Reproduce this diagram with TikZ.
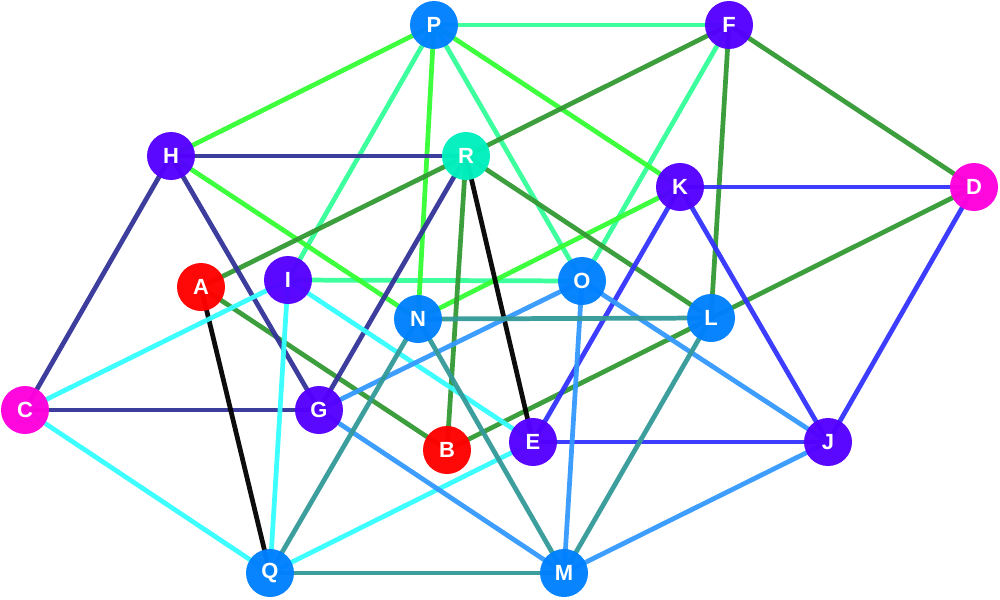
\documentclass[tikz,border=0pt]{standalone}
\usepackage{fontspec}
\setmainfont{Liberation Sans}
\usetikzlibrary{backgrounds}
\definecolor{nblue}{RGB}{0,128,255}
\definecolor{npurple}{RGB}{85,0,255}
\definecolor{nmag}{RGB}{255,0,221}
\definecolor{nred}{RGB}{255,0,0}
\definecolor{nturq}{RGB}{0,240,190}
\definecolor{emint}{RGB}{51,255,153}
\definecolor{egreen}{RGB}{51,255,51}
\definecolor{edgreen}{RGB}{51,153,51}
\definecolor{edblue}{RGB}{51,51,153}
\definecolor{eblue}{RGB}{51,51,255}
\definecolor{ecyan}{RGB}{51,255,255}
\definecolor{esky}{RGB}{51,153,255}
\definecolor{eteal}{RGB}{51,153,153}
\begin{document}
\begin{tikzpicture}[x=0.02cm,y=-0.02cm,
  vtx/.style={circle,minimum size=0.96cm,inner sep=0pt,fill opacity=0.97,text opacity=1,text=white,font=\fontsize{12.5}{12.5}\selectfont\bfseries},
  edg/.style={line width=2.7pt,draw opacity=0.95}]
\useasboundingbox (0,0) rectangle (1000,599);
% nodes
\node[vtx,fill=nblue] (P) at (434,25) {P};
\node[vtx,fill=npurple] (F) at (729,25) {F};
\node[vtx,fill=npurple] (H) at (171,156) {H};
\node[vtx,fill=nturq] (R) at (466,156) {R};
\node[vtx,fill=npurple] (K) at (680,187) {K};
\node[vtx,fill=nmag] (D) at (974,187) {D};
\node[vtx,fill=nred] (A) at (201,287) {A};
\node[vtx,fill=npurple] (I) at (288,280) {I};
\node[vtx,fill=nblue] (O) at (582,281) {O};
\node[vtx,fill=nblue] (N) at (418,319) {N};
\node[vtx,fill=nblue] (L) at (711,318) {L};
\node[vtx,fill=nmag] (C) at (25,410) {C};
\node[vtx,fill=npurple] (G) at (319,410) {G};
\node[vtx,fill=nred] (B) at (447,450) {B};
\node[vtx,fill=npurple] (E) at (533,442) {E};
\node[vtx,fill=npurple] (J) at (828,442) {J};
\node[vtx,fill=nblue] (Q) at (270,573) {Q};
\node[vtx,fill=nblue] (M) at (564,573) {M};
\begin{scope}[on background layer]
% mint
\foreach \a/\b in {P/F,P/I,P/O,F/O,I/O} \draw[edg,emint] (\a.center) -- (\b.center);
% bright green
\foreach \a/\b in {P/H,P/N,P/K,H/N,K/N} \draw[edg,egreen] (\a.center) -- (\b.center);
% dark green
\foreach \a/\b in {F/R,F/L,F/D,R/B,R/L,R/A,D/B,A/B} \draw[edg,edgreen] (\a.center) -- (\b.center);
% dark blue
\foreach \a/\b in {H/R,H/G,H/C,R/G,C/G} \draw[edg,edblue] (\a.center) -- (\b.center);
% black
\foreach \a/\b in {R/E,A/Q} \draw[edg,black] (\a.center) -- (\b.center);
% blue
\foreach \a/\b in {K/D,K/E,K/J,D/J,E/J} \draw[edg,eblue] (\a.center) -- (\b.center);
% cyan
\foreach \a/\b in {I/C,I/Q,I/E,C/Q,E/Q} \draw[edg,ecyan] (\a.center) -- (\b.center);
% sky
\foreach \a/\b in {O/G,O/M,O/J,G/M,J/M} \draw[edg,esky] (\a.center) -- (\b.center);
% teal
\foreach \a/\b in {N/L,N/Q,N/M,L/M,Q/M} \draw[edg,eteal] (\a.center) -- (\b.center);
\end{scope}
\end{tikzpicture}
\end{document}
